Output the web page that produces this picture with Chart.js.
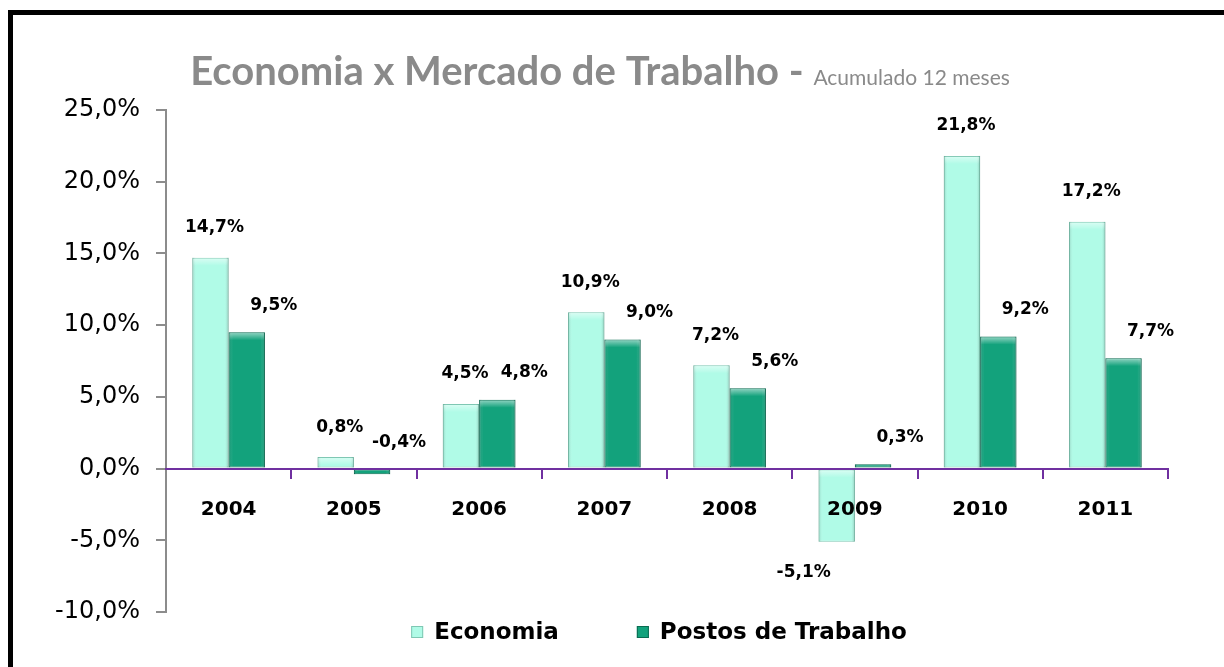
<!DOCTYPE html>
<html>
<head>
<meta charset="utf-8">
<script src="https://cdn.jsdelivr.net/npm/chart.js@4.4.0/dist/chart.umd.min.js"></script>
<style>
  html, body { margin: 0; padding: 0; background: #fff; }
  #wrap { position: relative; width: 1224px; height: 667px; }
</style>
</head>
<body>
<div id="wrap"><canvas id="mainChart" width="1224" height="667"></canvas></div>
<script>
const years = ["2004", "2005", "2006", "2007", "2008", "2009", "2010", "2011"];
const economia = [14.7, 0.8, 4.5, 10.9, 7.2, -5.1, 21.8, 17.2];
const postos = [9.5, -0.4, 4.8, 9.0, 5.6, 0.3, 9.2, 7.7];
const seriesNames = ["Economia", "Postos de Trabalho"];
const titleMain = "Economia x Mercado de Trabalho - ";
const titleSub = "Acumulado 12 meses";

const lightFill = "#b0fbe7";
const lightEdge = "#7fc7b3";
const darkFill = "#13a27c";
const darkEdge = "#0a6b51";
const purple = "#7030a0";
const axisGray = "#8c8c8c";

function fmt(v) {
  return v.toFixed(1).replace(".", ",") + "%";
}

// outer frame, title and legend
const decorPlugin = {
  id: "decor",
  beforeDraw(chart) {
    const c = chart.ctx;
    c.save();
    c.fillStyle = "#000";
    c.fillRect(8, 10, 5, 657);
    c.fillRect(8, 10, 1216, 5);
    c.restore();
  },
  afterDraw(chart) {
    const c = chart.ctx;
    c.save();
    // title
    c.textBaseline = "alphabetic";
    c.fillStyle = "#8a8a8a";
    c.font = "bold 40px Lato";
    const w1 = c.measureText(titleMain).width;
    c.font = "21px Lato";
    const w2 = c.measureText(titleSub).width;
    const tx = 600 - (w1 + w2) / 2;
    c.textAlign = "left";
    c.font = "bold 40px Lato";
    c.fillText(titleMain, tx, 85);
    c.font = "21px Lato";
    c.fillText(titleSub, tx + w1, 85);

    // legend
    c.font = "bold 23px 'DejaVu Sans'";
    const fills = [lightFill, darkFill];
    const edges = [lightEdge, darkEdge];
    const widths = seriesNames.map(n => 12 + 11 + c.measureText(n).width);
    const gap = 78;
    const total = widths[0] + widths[1] + gap;
    let lx = 659 - total / 2;
    const ly = 632;
    c.textBaseline = "middle";
    seriesNames.forEach((n, i) => {
      c.fillStyle = fills[i];
      c.fillRect(lx, ly - 6, 12, 12);
      c.strokeStyle = edges[i];
      c.lineWidth = 1;
      c.strokeRect(lx + 0.5, ly - 5.5, 11, 11);
      c.fillStyle = "#000";
      c.fillText(n, lx + 23, ly + 1);
      lx += widths[i] + gap;
    });
    c.restore();
  }
};

// light bevel shading on the bars
const bevelPlugin = {
  id: "bevel",
  afterDatasetsDraw(chart) {
    const c = chart.ctx;
    c.save();
    chart.data.datasets.forEach((ds, di) => {
      const meta = chart.getDatasetMeta(di);
      meta.data.forEach(bar => {
        const left = bar.x - bar.width / 2;
        const top = Math.min(bar.y, bar.base);
        const h = Math.abs(bar.base - bar.y);
        const g = c.createLinearGradient(left, 0, left + bar.width, 0);
        g.addColorStop(0, "rgba(0,70,50,0.22)");
        g.addColorStop(0.12, "rgba(255,255,255,0)");
        g.addColorStop(0.88, "rgba(255,255,255,0)");
        g.addColorStop(1, "rgba(0,70,50,0.28)");
        c.fillStyle = g;
        c.fillRect(left, top, bar.width, h);
        if (h > 8) {
          const gt = c.createLinearGradient(0, top, 0, top + 8);
          gt.addColorStop(0, "rgba(255,255,255,0.55)");
          gt.addColorStop(1, "rgba(255,255,255,0)");
          c.fillStyle = gt;
          c.fillRect(left + 1, top + 1, bar.width - 2, 7);
        }
      });
    });
    c.restore();
  }
};

// value labels above / below bars
const labelPlugin = {
  id: "barLabels",
  afterDatasetsDraw(chart) {
    const c = chart.ctx;
    c.save();
    c.font = "bold 17px 'DejaVu Sans'";
    c.fillStyle = "#000";
    c.textAlign = "center";
    c.textBaseline = "middle";
    chart.data.datasets.forEach((ds, di) => {
      const meta = chart.getDatasetMeta(di);
      meta.data.forEach((bar, i) => {
        const v = ds.data[i];
        const top = Math.min(bar.y, bar.base);
        const bottom = Math.max(bar.y, bar.base);
        let x, y;
        if (di === 0) {
          if (v >= 0) { x = bar.x + 4; y = top - 30; }
          else { x = bar.x - 33; y = bottom + 31; }
        } else {
          x = bar.x + 27; y = top - 27;
        }
        c.fillText(fmt(v), x, y);
      });
    });
    c.restore();
  }
};

const ctx = document.getElementById("mainChart").getContext("2d");

const chart = new Chart(ctx, {
  type: "bar",
  data: {
    labels: years,
    datasets: [
      {
        label: seriesNames[0],
        data: economia,
        backgroundColor: lightFill,
        borderColor: lightEdge,
        borderWidth: 1,
        borderSkipped: false
      },
      {
        label: seriesNames[1],
        data: postos,
        backgroundColor: darkFill,
        borderColor: darkEdge,
        borderWidth: 1,
        borderSkipped: false
      }
    ]
  },
  options: {
    responsive: false,
    animation: false,
    devicePixelRatio: 1,
    layout: {
      padding: { left: 0, right: 56, top: 110, bottom: 55 }
    },
    datasets: {
      bar: {
        categoryPercentage: 0.58,
        barPercentage: 1.0
      }
    },
    scales: {
      y: {
        min: -10,
        max: 25,
        afterFit: function (scale) {
          scale.width = 166;
        },
        ticks: {
          stepSize: 5,
          color: "#000",
          padding: 16,
          font: { family: "DejaVu Sans", size: 24 },
          callback: function (value) {
            return fmt(value);
          }
        },
        grid: {
          drawOnChartArea: false,
          drawTicks: true,
          tickLength: 10,
          color: axisGray,
          lineWidth: 2
        },
        border: { display: true, color: axisGray, width: 2 }
      },
      x: {
        position: { y: 0 },
        ticks: {
          z: 1,
          color: "#000",
          padding: 20,
          font: { family: "DejaVu Sans", size: 20, weight: "bold" }
        },
        grid: {
          offset: true,
          drawOnChartArea: false,
          drawTicks: true,
          tickLength: 9,
          color: purple,
          lineWidth: 2
        },
        border: { display: true, color: purple, width: 2, z: 1 }
      }
    },
    plugins: {
      legend: { display: false },
      title: { display: false },
      tooltip: { enabled: false }
    }
  },
  plugins: [decorPlugin, bevelPlugin, labelPlugin]
});
</script>
</body>
</html>
